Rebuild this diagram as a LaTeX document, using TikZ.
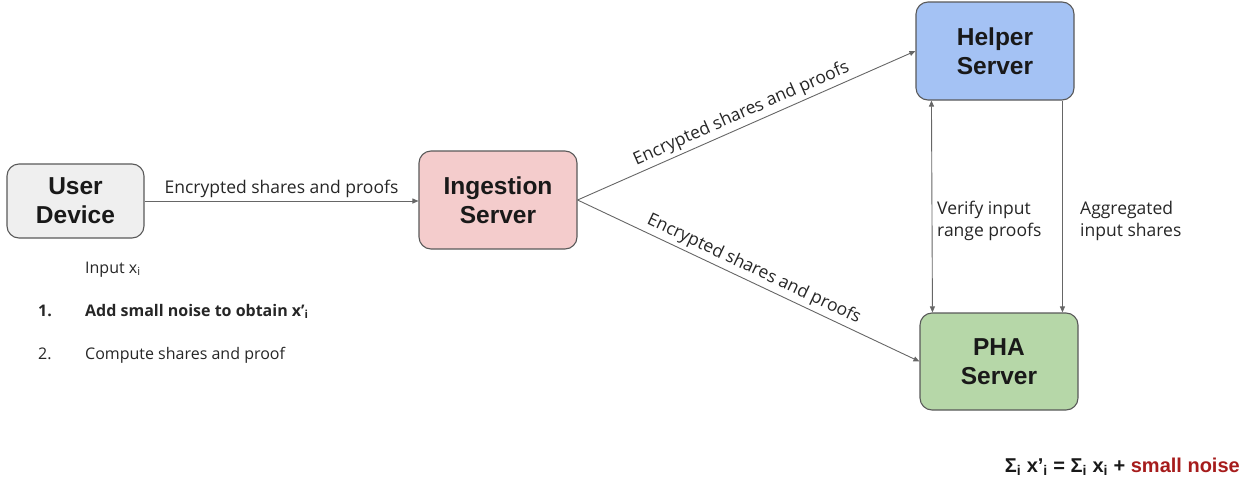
\documentclass[tikz,border=0pt]{standalone}
\usepackage{fontspec}
\setmainfont{Liberation Sans}
\newfontfamily\labelfont{Open Sans}
\usetikzlibrary{arrows.meta,calc}
\definecolor{edgegray}{HTML}{666666}
\definecolor{boxborder}{HTML}{595959}
\definecolor{userfill}{HTML}{EFEFEF}
\definecolor{ingfill}{HTML}{F4CCCC}
\definecolor{helpfill}{HTML}{A4C2F4}
\definecolor{phafill}{HTML}{B6D7A8}
\definecolor{noisered}{HTML}{A61C1C}
\begin{document}
\begin{tikzpicture}[x=1pt,y=1pt,
  srvbox/.style={draw=boxborder, line width=1.1pt, rounded corners=12pt, align=center,
    font=\fontsize{24.5}{29}\selectfont\bfseries, text=black!90, inner sep=0pt},
  conn/.style={draw=edgegray, line width=0.9pt, -{Triangle[length=6pt,width=5pt]}},
  elabel/.style={font=\labelfont\fontsize{17.5}{22}\selectfont, text=black!85},
  note/.style={font=\labelfont\fontsize{16}{18}\selectfont, text=black!85, anchor=base west, inner sep=0pt}]
\useasboundingbox (0,0) rectangle (1256,-485);
\node[srvbox, fill=userfill, minimum width=137pt, minimum height=74pt] (user) at (75.5,-201) {User\\Device};
\node[srvbox, fill=ingfill, minimum width=158pt, minimum height=98pt] (ing) at (498,-200) {Ingestion\\Server};
\node[srvbox, fill=helpfill, minimum width=158pt, minimum height=98pt] (helper) at (995,-51) {Helper\\Server};
\node[srvbox, fill=phafill, minimum width=158pt, minimum height=97pt] (pha) at (999,-361.5) {PHA\\Server};

\draw[conn] (user.east) -- node[elabel, above, yshift=0pt] {Encrypted shares and proofs} (ing.west |- user.east);
\draw[conn] (ing.east) -- node[elabel, sloped, above, yshift=0pt] {Encrypted shares and proofs} (helper.west);
\draw[conn] (ing.east) -- node[elabel, sloped, above, yshift=0pt] {Encrypted shares and proofs} (pha.west);

\coordinate (vt) at ($(helper.south west)+(16,0)$);
\coordinate (vb) at ($(pha.north west)+(13,0)$);
\coordinate (at) at ($(helper.south west)+(147,0)$);
\coordinate (ab) at ($(pha.north west)+(143,0)$);
\draw[conn, {Triangle[length=6pt,width=5pt]}-{Triangle[length=6pt,width=5pt]}] (vt) -- (vb);
\draw[conn] (at) -- (ab);

\node[elabel, align=left, anchor=west, inner sep=0pt] (verify) at (937,-221) {Verify input\\range proofs};
\node[elabel, align=left, anchor=west, inner sep=0pt] (aggr) at (1080,-221) {Aggregated\\input shares};

\node[note] (inp) at (85,-273) {Input x\textsubscript{i}};
\node[note, font=\labelfont\fontsize{16}{18}\selectfont\bfseries] (n1) at (38,-316) {1.};
\node[note, font=\labelfont\fontsize{16}{18}\selectfont\bfseries] (s1) at (85,-316) {Add small noise to obtain x’\textsubscript{i}};
\node[note] (n2) at (38,-359) {2.};
\node[note] (s2) at (85,-359) {Compute shares and proof};

\node[font=\fontsize{20}{24}\selectfont\bfseries, text=black!90, anchor=base east, inner sep=0pt] (sum) at (1240,-472)
  {Σ\textsubscript{i} x’\textsubscript{i} = Σ\textsubscript{i} x\textsubscript{i} + \textcolor{noisered}{small noise}};
\end{tikzpicture}
\end{document}
